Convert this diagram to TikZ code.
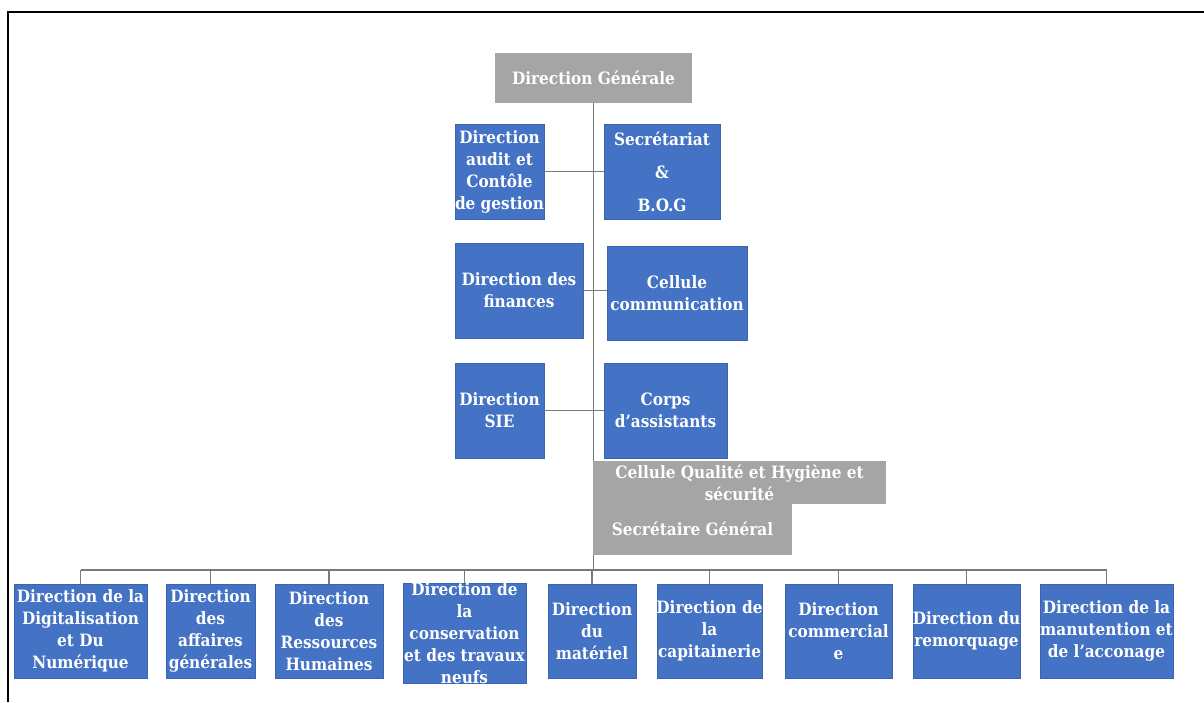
\documentclass[tikz,border=0pt]{standalone}
\usepackage{fontspec}
\setmainfont{DejaVu Serif Condensed}
\definecolor{bluefill}{HTML}{4472C4}
\definecolor{blueedge}{HTML}{3A64B0}
\definecolor{grayfill}{HTML}{A5A5A5}
\definecolor{linecol}{HTML}{7A7A7A}
\tikzset{
  bluebox/.style={rectangle, fill=bluefill, draw=blueedge, line width=0.8pt, inner sep=0pt},
  graybox/.style={rectangle, fill=grayfill, inner sep=0pt},
  txt/.style={text=white, font=\fontsize{17}{22}\selectfont\bfseries, align=center, inner sep=0pt},
  conn/.style={draw=linecol, line width=1.2pt},
}
% \mkbox{name}{style}{x1}{y1}{x2}{y2}{text}{text options}
\newcommand\mkbox[8]{%
  \node[#2, minimum width={(#5-#3)*1pt}, minimum height={(#6-#4)*1pt}] (#1) at ({(#3+#5)/2},{(#4+#6)/2}) {};
  \node[txt, #8] (#1-t) at (#1.center) {#7};
}
\begin{document}
\begin{tikzpicture}[x=1pt, y=-1pt]
\useasboundingbox (0,0) rectangle (1204,702);
% frame
\draw[line width=2pt] (8,702) -- (8,12) -- (1204,12);

\coordinate (vbot) at (593.5,570);

\node[graybox, minimum width=197pt, minimum height=50pt] (dg) at (593.5,78) {};

% main vertical line
\draw[conn] (dg.south) -- (vbot);

\node[txt] (dg-t) at (dg.center) {Direction Générale};

\mkbox{aud}{bluebox}{455}{124}{544}{219}{Direction\\audit et\\Contôle\\de gestion}{}
\mkbox{sec}{bluebox}{604}{124}{720}{219}{Secrétariat\\[11pt]\&\\[11pt]B.O.G}{}
\mkbox{fin}{bluebox}{455}{243}{583}{338}{Direction des\\finances}{}
\mkbox{com}{bluebox}{607}{246}{747}{340}{Cellule\\communication}{}
\mkbox{sie}{bluebox}{455}{363}{544}{458}{Direction\\SIE}{}
\mkbox{cor}{bluebox}{604}{363}{727}{458}{Corps\\d’assistants}{}

\draw[conn] (aud.east) -- (sec.west);
\draw[conn] (fin.east) -- (fin.east -| com.west);
\draw[conn] (sie.east) -- (cor.west);

\mkbox{cq}{graybox}{593}{461}{886}{504}{Cellule Qualité et Hygiène et\\sécurité}{}
\mkbox{sg}{graybox}{593}{502}{792}{555}{Secrétaire Général}{}

% bottom row
\mkbox{b1}{bluebox}{14}{584}{147}{678}{Direction de la\\Digitalisation\\et Du\\Numérique}{}
\mkbox{b2}{bluebox}{166}{584}{255}{678}{Direction\\des\\affaires\\générales}{}
\mkbox{b3}{bluebox}{275}{584}{383}{678}{Direction\\des\\Ressources\\Humaines}{}
\mkbox{b4}{bluebox}{403}{583}{526}{683}{Direction de\\la\\conservation\\et des travaux\\neufs}{}
\mkbox{b5}{bluebox}{548}{584}{636}{678}{Direction\\du\\matériel}{}
\mkbox{b6}{bluebox}{657}{584}{762}{678}{Direction de\\la\\capitainerie}{}
\mkbox{b7}{bluebox}{785}{584}{892}{678}{Direction\\commercial\\e}{}
\mkbox{b8}{bluebox}{913}{584}{1020}{678}{Direction du\\remorquage}{}
\mkbox{b9}{bluebox}{1040}{584}{1173}{678}{Direction de la\\manutention et\\de l’acconage}{}

\draw[conn] (b1.north |- vbot) -- (b9.north |- vbot);
\foreach \b in {b1,b2,b3,b4,b5,b6,b7,b8,b9}{
  \draw[conn] (\b.north) -- (\b.north |- vbot);
}
\end{tikzpicture}
\end{document}
